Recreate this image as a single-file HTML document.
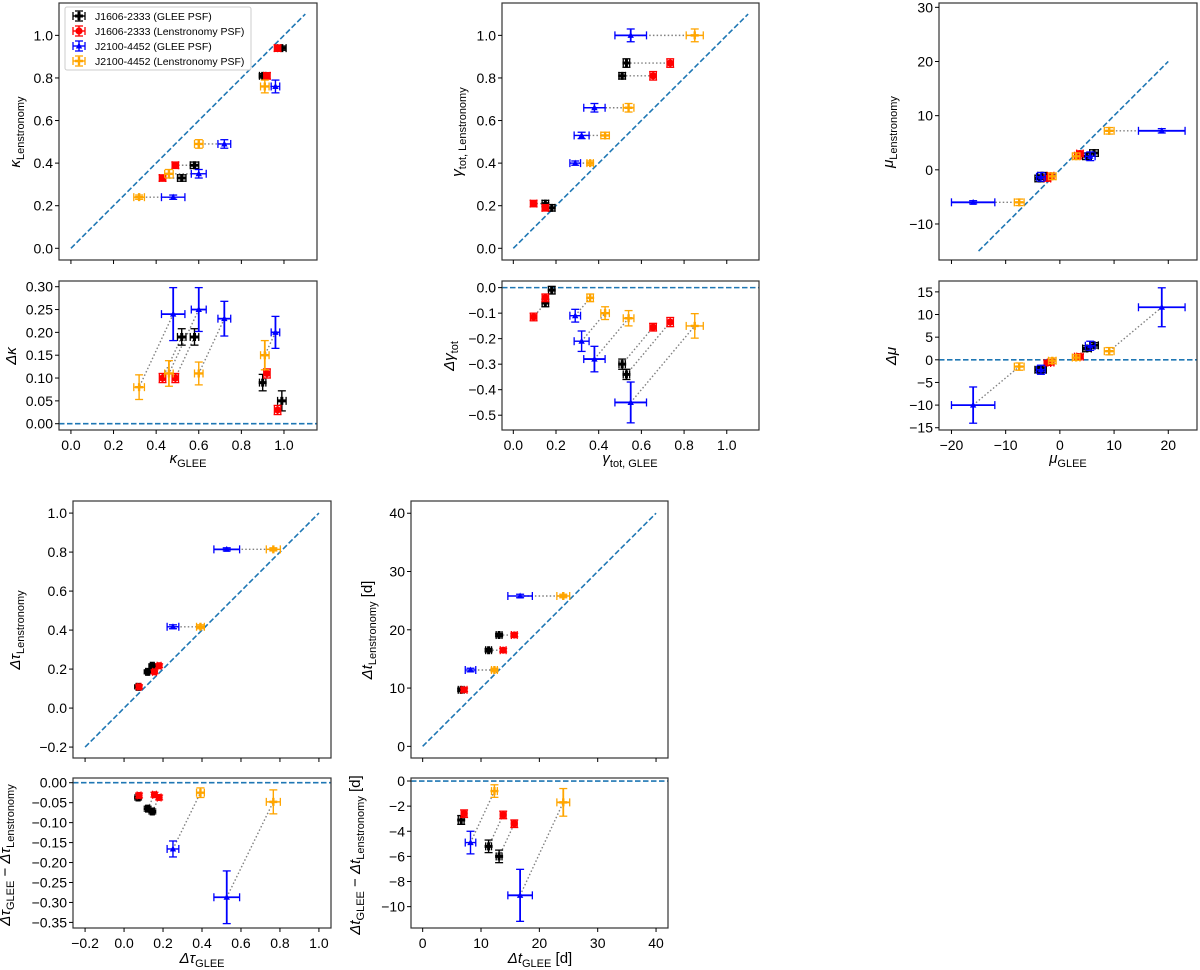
<!DOCTYPE html>
<html><head><meta charset="utf-8"><style>
html,body{margin:0;padding:0;background:#fff;}
svg{display:block;font-family:"Liberation Sans","DejaVu Sans",sans-serif;}
</style></head><body>
<svg id="fig" width="1200" height="970" viewBox="0 0 1200 970" xmlns="http://www.w3.org/2000/svg"></svg>
<script>
// ---- Panel 1: kappa ----
const kBlackG=[0.99,0.90,0.58,0.52], kBlackL=[0.94,0.81,0.39,0.33];
const kBlackXe=[0.02,0.015,0.02,0.02], kBlackYe=[0.01,0.01,0.015,0.015], kBlackDe=[0.022,0.018,0.018,0.018];
const kRedG=[0.97,0.92,0.49,0.43], kRedL=[0.94,0.81,0.39,0.33];
const kRedXe=[0.015,0.015,0.015,0.015], kRedYe=[0.015,0.015,0.015,0.015], kRedDe=[0.01,0.01,0.01,0.01];
const kBlueG=[0.96,0.72,0.60,0.48], kBlueL=[0.76,0.49,0.35,0.24];
const kBlueXe=[0.02,0.03,0.035,0.055], kBlueYe=[0.03,0.02,0.02,0.01], kBlueDe=[0.035,0.038,0.048,0.058];
const kOrangeG=[0.91,0.60,0.46,0.32], kOrangeL=[0.76,0.49,0.35,0.24];
const kOrangeXe=[0.02,0.02,0.02,0.025], kOrangeYe=[0.03,0.02,0.02,0.01], kOrangeDe=[0.032,0.025,0.028,0.027];
// ---- Panel 2: gamma_tot ----
const gBlackG=[0.53,0.51,0.15,0.18], gBlackL=[0.87,0.81,0.21,0.19];
const gBlackXe=[0.015,0.015,0.015,0.015], gBlackYe=[0.02,0.015,0.015,0.015], gBlackDe=[0.02,0.02,0.015,0.015];
const gRedG=[0.735,0.655,0.095,0.15], gRedL=[0.87,0.81,0.21,0.19];
const gRedXe=[0.015,0.015,0.015,0.015], gRedYe=[0.02,0.02,0.015,0.015], gRedDe=[0.018,0.015,0.015,0.015];
const gBlueG=[0.55,0.38,0.32,0.29], gBlueL=[1.0,0.66,0.53,0.40];
const gBlueXe=[0.074,0.05,0.035,0.025], gBlueYe=[0.03,0.02,0.015,0.01], gBlueDe=[0.08,0.05,0.04,0.025];
const gOrangeG=[0.85,0.54,0.43,0.36], gOrangeL=[1.0,0.66,0.53,0.40];
const gOrangeXe=[0.04,0.025,0.02,0.015], gOrangeYe=[0.03,0.02,0.015,0.01], gOrangeDe=[0.048,0.03,0.025,0.015];
// ---- Panel 3: mu ----
const mBlackG=[-3.8,-3.3,5.0,6.3], mBlackL=[-1.6,-1.1,2.5,3.1];
const mBlackXe=[0.8,0.8,0.8,0.8], mBlackYe=[0.6,0.6,0.6,0.6], mBlackDe=[0.6,0.6,0.6,0.6];
const mRedG=[-2.3,-1.7,3.7,3.3], mRedL=[-1.6,-1.1,3.0,2.6];
const mRedXe=[0.6,0.6,0.6,0.6], mRedYe=[0.5,0.5,0.5,0.5], mRedDe=[0.5,0.5,0.5,0.5];
const mBlueG=[-16,18.8,-3.5,5.6], mBlueL=[-6.0,7.2,-1.3,2.5];
const mBlueXe=[4.0,4.3,0.8,0.9], mBlueYe=[0.3,0.4,0.8,0.8], mBlueDe=[4.0,4.3,1.0,1.0];
const mOrangeG=[-7.5,9.1,-1.4,3.0], mOrangeL=[-6.0,7.2,-1.2,2.5];
const mOrangeXe=[0.9,0.9,0.7,0.7], mOrangeYe=[0.6,0.6,0.6,0.6], mOrangeDe=[0.8,0.8,0.6,0.6];
// ---- Panel 4: time-delay ratio tau ----
const tBlackG=[0.072,0.121,0.145], tBlackL=[0.109,0.186,0.217];
const tBlackXe=[0.01,0.01,0.01], tBlackYe=[0.01,0.01,0.01], tBlackDe=[0.006,0.006,0.006];
const tRedG=[0.077,0.156,0.18], tRedL=[0.109,0.186,0.217];
const tRedXe=[0.01,0.01,0.01], tRedYe=[0.01,0.01,0.01], tRedDe=[0.006,0.006,0.006];
const tBlueG=[0.527,0.251], tBlueL=[0.814,0.417];
const tBlueXe=[0.066,0.03], tBlueYe=[0.008,0.01], tBlueDe=[0.066,0.02];
const tOrangeG=[0.766,0.392], tOrangeL=[0.814,0.417];
const tOrangeXe=[0.036,0.02], tOrangeYe=[0.008,0.01], tOrangeDe=[0.03,0.012];
// ---- Panel 5: time delay ----
const dBlackG=[6.6,11.3,13.1], dBlackL=[9.7,16.5,19.1];
const dBlackXe=[0.5,0.5,0.5], dBlackYe=[0.3,0.3,0.3], dBlackDe=[0.35,0.5,0.5];
const dRedG=[7.1,13.8,15.7], dRedL=[9.7,16.5,19.1];
const dRedXe=[0.5,0.5,0.5], dRedYe=[0.3,0.3,0.3], dRedDe=[0.3,0.3,0.3];
const dBlueG=[16.7,8.2], dBlueL=[25.8,13.1];
const dBlueXe=[2.1,0.9], dBlueYe=[0.3,0.3], dBlueDe=[2.07,0.9];
const dOrangeG=[24.1,12.3], dOrangeL=[25.8,13.1];
const dOrangeXe=[1.1,0.5], dOrangeYe=[0.3,0.3], dOrangeDe=[1.1,0.5];
// ---- tick labels ----
const ticks01=[0,0.2,0.4,0.6,0.8,1.0];
const ticksKD=[0,0.05,0.10,0.15,0.20,0.25,0.30];
const ticksGD=[0,-0.1,-0.2,-0.3,-0.4,-0.5];
const ticksMX=[-20,-10,0,10,20], ticksMY=[-10,0,10,20,30], ticksMD=[-15,-10,-5,0,5,10,15];
const ticksTX=[-0.2,0,0.2,0.4,0.6,0.8,1.0], ticksTD=[0,-0.05,-0.10,-0.15,-0.20,-0.25,-0.30,-0.35];
const ticksDX=[0,10,20,30,40], ticksDD=[0,-2,-4,-6,-8,-10];

const NS='http://www.w3.org/2000/svg';
const svg=document.getElementById('fig');
function el(tag,attrs,parent){const e=document.createElementNS(NS,tag);for(const k in attrs)e.setAttribute(k,attrs[k]);(parent||svg).appendChild(e);return e;}
function lin(d0,d1,p0,p1){return v=>p0+(v-d0)*(p1-p0)/(d1-d0);}
function fmt(v,dec){let s=v.toFixed(dec);if(v<0)s='\u2212'+s.slice(1);return s;}

const COLORS={black:'#000000',red:'#ff0000',blue:'#0000ff',orange:'#ffa500'};

function marker(g,kind,x,y){
  const c=COLORS[kind];
  if(kind==='black'){el('path',{d:`M${x-1.5},${y-4}h3v2.5h2.5v3h-2.5v2.5h-3v-2.5h-2.5v-3h2.5z`,fill:c},g);}
  else if(kind==='red'){el('circle',{cx:x,cy:y,r:3.6,fill:c},g);}
  else if(kind==='blue'){el('path',{d:`M${x},${y-3.5}L${x+3.2},${y+2.5}L${x-3.2},${y+2.5}Z`,fill:c},g);}
  else {el('path',{d:`M${x-1.2},${y-4}h2.4v2.8h2.8v2.4h-2.8v2.8h-2.4v-2.8h-2.8v-2.4h2.8z`,fill:c},g);}
}
function errbar(g,kind,x,y,x0,x1,y0,y1){
  const c=COLORS[kind];const big=(Math.abs(y1-y0)>25||Math.abs(x1-x0)>25);const w=big?1.8:1.4;
  el('line',{x1:x0,y1:y,x2:x1,y2:y,stroke:c,'stroke-width':w},g);
  el('line',{x1:x,y1:y0,x2:x,y2:y1,stroke:c,'stroke-width':w},g);
  const cap=4;
  if(Math.abs(x1-x0)>2){el('line',{x1:x0,y1:y-cap,x2:x0,y2:y+cap,stroke:c,'stroke-width':1.3},g);el('line',{x1:x1,y1:y-cap,x2:x1,y2:y+cap,stroke:c,'stroke-width':1.3},g);}
  if(Math.abs(y1-y0)>2){el('line',{x1:x-cap,y1:y0,x2:x+cap,y2:y0,stroke:c,'stroke-width':1.3},g);el('line',{x1:x-cap,y1:y1,x2:x+cap,y2:y1,stroke:c,'stroke-width':1.3},g);}
  marker(g,kind,x,y);
}

function axesFrame(name){
  const g=el('g',{});
  
  
  return g;
}
function drawFrame(g,fx0,fx1,fy0,fy1){
  const r=el('rect',{x:fx0,y:fy0,width:fx1-fx0,height:fy1-fy0,fill:'none',stroke:'#333','stroke-width':1.2},g);
  
  
}
function xTicks(g,sx,ticks,fy1,dec,labels){
  ticks.forEach(t=>{const x=sx(t);
    el('line',{x1:x,y1:fy1,x2:x,y2:fy1+4,stroke:'#000','stroke-width':1},g);
    if(labels){const tx=el('text',{x:x,y:fy1+20,'text-anchor':'middle','font-size':14,fill:'#000'},g);tx.textContent=fmt(t,dec);
      
      }
  });
}
function yTicks(g,sy,ticks,fx0,dec){
  ticks.forEach(t=>{const y=sy(t);
    el('line',{x1:fx0-4,y1:y,x2:fx0,y2:y,stroke:'#000','stroke-width':1},g);
    const tx=el('text',{x:fx0-6,y:y+5,'text-anchor':'end','font-size':14,fill:'#000'},g);tx.textContent=fmt(t,dec);
    
    
  });
}
function label(g,x,y,main,sub,rot,name,extra){
  const t=el('text',{x:x,y:y,'text-anchor':'middle','font-size':15,fill:'#000',transform:rot?`rotate(-90 ${x} ${y})`:''},g);
  
  
  const a=el('tspan',{'font-style':'italic'},t);a.textContent=main;
  const b=el('tspan',{'font-size':11,dy:4},t);b.textContent=sub;
  if(extra){const c=el('tspan',{dy:-4},t);c.textContent=extra;}
  return t;
}

function panel(cfg){
  const {name,fx,fyU,fyL,dx,dyU,dyL,series,diag,xt,xdec,yUt,yUdec,yLt,yLdec}=cfg;
  const sx=lin(dx[0],dx[1],fx[0],fx[1]);
  const syU=lin(dyU[0],dyU[1],fyU[1],fyU[0]);
  const syL=lin(dyL[0],dyL[1],fyL[1],fyL[0]);
  const gU=axesFrame(name+'-upper-axes');
  const gL=axesFrame(name+'-lower-axes');
  const dl=el('line',{x1:sx(diag[0]),y1:syU(diag[0]),x2:sx(diag[1]),y2:syU(diag[1]),stroke:'#1f77b4','stroke-width':1.6,'stroke-dasharray':'5.5,2.5'},gU);
  
  
  const zl=el('line',{x1:fx[0],y1:syL(0),x2:fx[1],y2:syL(0),stroke:'#1f77b4','stroke-width':1.6,'stroke-dasharray':'5.5,2.5'},gL);
  
  
  [[0,1],[2,3]].forEach(([a,b])=>{
    const A=series[a],B=series[b];
    A.G.forEach((_,i)=>{
      const l1=el('line',{x1:sx(A.G[i]),y1:syU(A.L[i]),x2:sx(B.G[i]),y2:syU(B.L[i]),stroke:'#808080','stroke-width':1.4,'stroke-dasharray':'1.5,2.2'},gU);
      
      
      const l2=el('line',{x1:sx(A.G[i]),y1:syL(A.G[i]-A.L[i]),x2:sx(B.G[i]),y2:syL(B.G[i]-B.L[i]),stroke:'#808080','stroke-width':1.4,'stroke-dasharray':'1.5,2.2'},gL);
      
      
    });
  });
  series.forEach(s=>{
    s.G.forEach((g,i)=>{
      const p=el('g',{},gU);
      
      
      errbar(p,s.kind,sx(g),syU(s.L[i]),sx(g-s.Xe[i]),sx(g+s.Xe[i]),syU(s.L[i]+s.Ye[i]),syU(s.L[i]-s.Ye[i]));
      const d=g-s.L[i];
      const q=el('g',{},gL);
      
      
      errbar(q,s.kind,sx(g),syL(d),sx(g-s.Xe[i]),sx(g+s.Xe[i]),syL(d+s.De[i]),syL(d-s.De[i]));
    });
  });
  drawFrame(gU,fx[0],fx[1],fyU[0],fyU[1]);
  drawFrame(gL,fx[0],fx[1],fyL[0],fyL[1]);
  xTicks(gU,sx,xt,fyU[1],xdec,false);
  xTicks(gL,sx,xt,fyL[1],xdec,true);
  yTicks(gU,syU,yUt,fx[0],yUdec);
  yTicks(gL,syL,yLt,fx[0],yLdec);
  return {gU,gL};
}
function S(kind,G,L,Xe,Ye,De){return {kind,G,L,Xe,Ye,De};}

const p1=panel({name:'kappa',fx:[59,317],fyU:[3,260],fyL:[281,430],dx:[-0.056,1.155],dyU:[-0.055,1.152],dyL:[-0.0138,0.3125],
  series:[S('black',kBlackG,kBlackL,kBlackXe,kBlackYe,kBlackDe),S('red',kRedG,kRedL,kRedXe,kRedYe,kRedDe),S('blue',kBlueG,kBlueL,kBlueXe,kBlueYe,kBlueDe),S('orange',kOrangeG,kOrangeL,kOrangeXe,kOrangeYe,kOrangeDe)],
  diag:[0,1.1],xt:ticks01,xdec:1,yUt:ticks01,yUdec:1,yLt:ticksKD,yLdec:2});
label(p1.gU,20,132,'\u03BA','Lenstronomy',true,'y-axis-title');
label(p1.gL,16,356,'\u0394\u03BA','',true,'y-axis-title');
label(p1.gL,188,463,'\u03BA','GLEE',false,'x-axis-title');

const p2=panel({name:'gamma',fx:[502,759],fyU:[3,260],fyL:[281,430],dx:[-0.053,1.151],dyU:[-0.055,1.152],dyL:[-0.558,0.026],
  series:[S('black',gBlackG,gBlackL,gBlackXe,gBlackYe,gBlackDe),S('red',gRedG,gRedL,gRedXe,gRedYe,gRedDe),S('blue',gBlueG,gBlueL,gBlueXe,gBlueYe,gBlueDe),S('orange',gOrangeG,gOrangeL,gOrangeXe,gOrangeYe,gOrangeDe)],
  diag:[0,1.1],xt:ticks01,xdec:1,yUt:ticks01,yUdec:1,yLt:ticksGD,yLdec:1});
label(p2.gU,462,132,'\u03B3','tot, Lenstronomy',true,'y-axis-title');
label(p2.gL,454,356,'\u0394\u03B3','tot',true,'y-axis-title');
label(p2.gL,630,463,'\u03B3','tot, GLEE',false,'x-axis-title');

const p3=panel({name:'mu',fx:[939,1197],fyU:[3,260],fyL:[281,430],dx:[-22.3,25.3],dyU:[-16.65,30.8],dyL:[-15.5,17.4],
  series:[S('black',mBlackG,mBlackL,mBlackXe,mBlackYe,mBlackDe),S('red',mRedG,mRedL,mRedXe,mRedYe,mRedDe),S('blue',mBlueG,mBlueL,mBlueXe,mBlueYe,mBlueDe),S('orange',mOrangeG,mOrangeL,mOrangeXe,mOrangeYe,mOrangeDe)],
  diag:[-15,20],xt:ticksMX,xdec:0,yUt:ticksMY,yUdec:0,yLt:ticksMD,yLdec:0});
label(p3.gU,893,132,'\u03BC','Lenstronomy',true,'y-axis-title');
label(p3.gL,896,356,'\u0394\u03BC','',true,'y-axis-title');
label(p3.gL,1068,463,'\u03BC','GLEE',false,'x-axis-title');

const p4=panel({name:'tau',fx:[73,331],fyU:[501,758],fyL:[778,928],dx:[-0.262,1.062],dyU:[-0.256,1.062],dyL:[-0.364,0.0118],
  series:[S('black',tBlackG,tBlackL,tBlackXe,tBlackYe,tBlackDe),S('red',tRedG,tRedL,tRedXe,tRedYe,tRedDe),S('blue',tBlueG,tBlueL,tBlueXe,tBlueYe,tBlueDe),S('orange',tOrangeG,tOrangeL,tOrangeXe,tOrangeYe,tOrangeDe)],
  diag:[-0.2,1.0],xt:ticksTX,xdec:1,yUt:[-0.2,0,0.2,0.4,0.6,0.8,1.0],yUdec:1,yLt:ticksTD,yLdec:2});
label(p4.gU,20,630,'\u0394\u03C4','Lenstronomy',true,'y-axis-title');
(function(){const t=label(p4.gL,10,855,'\u0394\u03C4','GLEE',true,'y-axis-title',' \u2212 ');const a=el('tspan',{'font-style':'italic'},t);a.textContent='\u0394\u03C4';const b=el('tspan',{'font-size':11,dy:4},t);b.textContent='Lenstronomy';})();
label(p4.gL,202,963,'\u0394\u03C4','GLEE',false,'x-axis-title');

const p5=panel({name:'delay',fx:[411,668],fyU:[501,758],fyL:[778,928],dx:[-2.0,42.05],dyU:[-2.0,42.1],dyL:[-11.7,0.24],
  series:[S('black',dBlackG,dBlackL,dBlackXe,dBlackYe,dBlackDe),S('red',dRedG,dRedL,dRedXe,dRedYe,dRedDe),S('blue',dBlueG,dBlueL,dBlueXe,dBlueYe,dBlueDe),S('orange',dOrangeG,dOrangeL,dOrangeXe,dOrangeYe,dOrangeDe)],
  diag:[0,40],xt:ticksDX,xdec:0,yUt:[0,10,20,30,40],yUdec:0,yLt:ticksDD,yLdec:0});
label(p5.gU,372,630,'\u0394t','Lenstronomy',true,'y-axis-title',' [d]');
(function(){const t=label(p5.gL,360,855,'\u0394t','GLEE',true,'y-axis-title',' \u2212 ');const a=el('tspan',{'font-style':'italic'},t);a.textContent='\u0394t';const b=el('tspan',{'font-size':11,dy:4},t);b.textContent='Lenstronomy';const c=el('tspan',{dy:-4},t);c.textContent=' [d]';})();
label(p5.gL,540,963,'\u0394t','GLEE',false,'x-axis-title',' [d]');

// legend
const lg=el('g',{});


el('rect',{x:65,y:7,width:186,height:63,rx:2,fill:'#fff','fill-opacity':0.85,stroke:'#ccc','stroke-width':1},lg);
const legendNames=['J1606-2333 (GLEE PSF)','J1606-2333 (Lenstronomy PSF)','J2100-4452 (GLEE PSF)','J2100-4452 (Lenstronomy PSF)'];
const legendKinds=['black','red','blue','orange'];
legendNames.forEach((n,i)=>{
  const y=16+i*15;
  const e=el('g',{},lg);
  
  
  errbar(e,legendKinds[i],79,y,73,85,y-5,y+5);
  const t=el('text',{x:95,y:y+4,'font-size':10.5,fill:'#000'},e);t.textContent=n;
});
</script>
</body></html>
